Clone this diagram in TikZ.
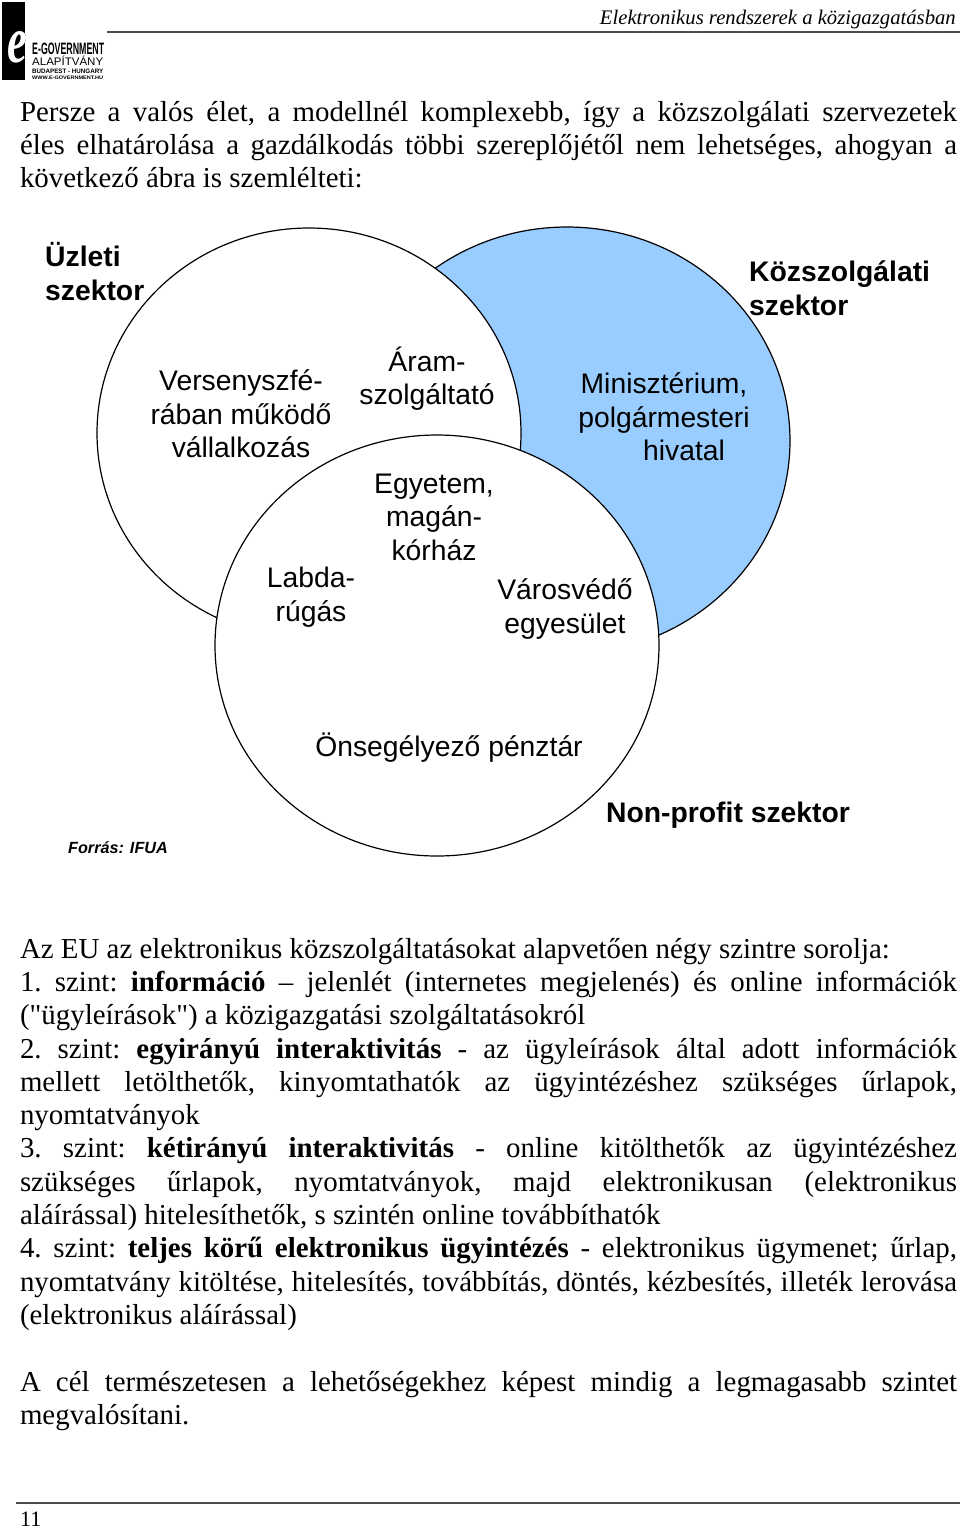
\documentclass[tikz,border=0pt]{standalone}
\usepackage{graphicx}
\usepackage{fontspec}
\setmainfont{Liberation Serif}
\newfontfamily\arial{Liberation Sans}
\font\plainq="Liberation Serif" at 28.9pt
\newcommand{\sq}{{\plainq"}}
\definecolor{vennblue}{RGB}{153,204,255}
\tikzset{
  para/.style={anchor=north west,inner sep=0pt,outer sep=0pt,text width=937pt,align=justify,font=\fontsize{28.9}{33.3}\selectfont\frenchspacing},
  venn/.style={draw=black,line width=1.2pt,fill=white},
  lbl/.style={align=center,inner sep=0pt,font=\arial\fontsize{28.3}{33.5}\selectfont},
  sec/.style={align=left,inner sep=0pt,anchor=west,font=\arial\bfseries\fontsize{28.3}{34}\selectfont},
  rulel/.style={line width=2pt,draw=black!70},
  logot/.style={inner sep=0pt,anchor=west},
}
\begin{document}
\begin{tikzpicture}[x=1pt,y=-1pt]
\useasboundingbox (0,0) rectangle (960,1527);
% logo
\fill[black] (2,2) rectangle (25,80);
\begin{scope}
\clip (25,0) rectangle (40,90);
\node[inner sep=0pt,text=black] (logoeo) at (18,47) {\resizebox{20pt}{31pt}{\bfseries\itshape e}};
\end{scope}
\begin{scope}
\clip (2,2) rectangle (25,80);
\node[inner sep=0pt,text=white] (logoe) at (18,47) {\resizebox{20pt}{31pt}{\bfseries\itshape e}};
\end{scope}
\node[logot] (logoa) at (32,49) {\resizebox{72pt}{11.5pt}{\arial\bfseries E-GOVERNMENT}};
\node[logot] (logob) at (32,60.5) {\resizebox{71pt}{9.5pt}{\arial ALAPÍTVÁNY}};
\node[logot] (logoc) at (32,71) {\resizebox{71pt}{4.5pt}{\arial\bfseries BUDAPEST - HUNGARY}};
\node[logot] (logod) at (32,77.5) {\resizebox{71pt}{3.5pt}{\arial\bfseries WWW.E-GOVERNMENT.HU}};
% header
\draw[rulel] (107,32) -- (960,32);
\node[inner sep=0pt,anchor=east,font=\fontsize{20.7}{24}\selectfont\itshape] (hdr) at (956,19.5) {Elektronikus rendszerek a közigazgatásban};
% intro
\node[para] (intro) at (20,101) {Persze a valós élet, a modellnél komplexebb, így a közszolgálati szervezetek\linebreak
éles elhatárolása a gazdálkodás többi szereplőjétől nem lehetséges, ahogyan a\linebreak
következő ábra is szemlélteti:};
% Venn
\fill[fill=vennblue,draw=black,line width=1.2pt] (567,440.5) ellipse [x radius=223,y radius=213.5];
\draw[venn] (309,433) ellipse [x radius=212,y radius=205];
\draw[venn] (437,645.5) ellipse [x radius=222,y radius=210.5];
\node[sec] (s1) at (45,272) {Üzleti\\szektor};
\node[sec] (s2) at (749,288.5) {Közszolgálati\\szektor};
\node[lbl] (a) at (241,414) {Versenyszfé-\\rában működő\\vállalkozás};
\node[lbl] (b) at (427,378.5) {Áram-\\szolgáltató};
\node[lbl] (c) at (664,417) {Minisztérium,\\polgármesteri\\\hspace*{40pt}hivatal};
\node[lbl] (d) at (434,517) {Egyetem,\\magán-\\kórház};
\node[lbl] (e) at (311,597) {Labda-\\rúgás};
\node[lbl] (f) at (565,609) {Városvédő\\egyesület};
\node[lbl] (g) at (449,747.5) {Önsegélyező pénztár};
\node[sec] (s3) at (606,815) {Non-profit szektor};
\node[inner sep=0pt,font=\arial\bfseries\itshape\fontsize{16.2}{20}\selectfont] (src) at (118,848) {Forrás: IFUA};
% body
\node[para] (body) at (20,938) {Az EU az elektronikus közszolgáltatásokat alapvetően négy szintre sorolja:\\
1. szint: \textbf{információ} – jelenlét (internetes megjelenés) és online információk\linebreak
(\sq ügyleírások\sq) a közigazgatási szolgáltatásokról\\
2. szint: \textbf{egyirányú interaktivitás} - az ügyleírások által adott információk\linebreak
mellett letölthetők, kinyomtathatók az ügyintézéshez szükséges űrlapok,\linebreak
nyomtatványok\\
3. szint: \textbf{kétirányú interaktivitás} - online kitölthetők az ügyintézéshez\linebreak
szükséges űrlapok, nyomtatványok, majd elektronikusan (elektronikus\linebreak
aláírással) hitelesíthetők, s szintén online továbbíthatók\\
4. szint: \textbf{teljes körű elektronikus ügyintézés} - elektronikus ügymenet; űrlap,\linebreak
nyomtatvány kitöltése, hitelesítés, továbbítás, döntés, kézbesítés, illeték lerovása\linebreak
(elektronikus aláírással)};
\node[para] (goal) at (20,1371) {A cél természetesen a lehetőségekhez képest mindig a legmagasabb szintet\linebreak
megvalósítani.};
% footer
\draw[rulel] (16,1503) -- (960,1503);
\node[inner sep=0pt,anchor=base west,font=\fontsize{22}{24}\selectfont] (pg) at (20,1526) {11};
\end{tikzpicture}
\end{document}
